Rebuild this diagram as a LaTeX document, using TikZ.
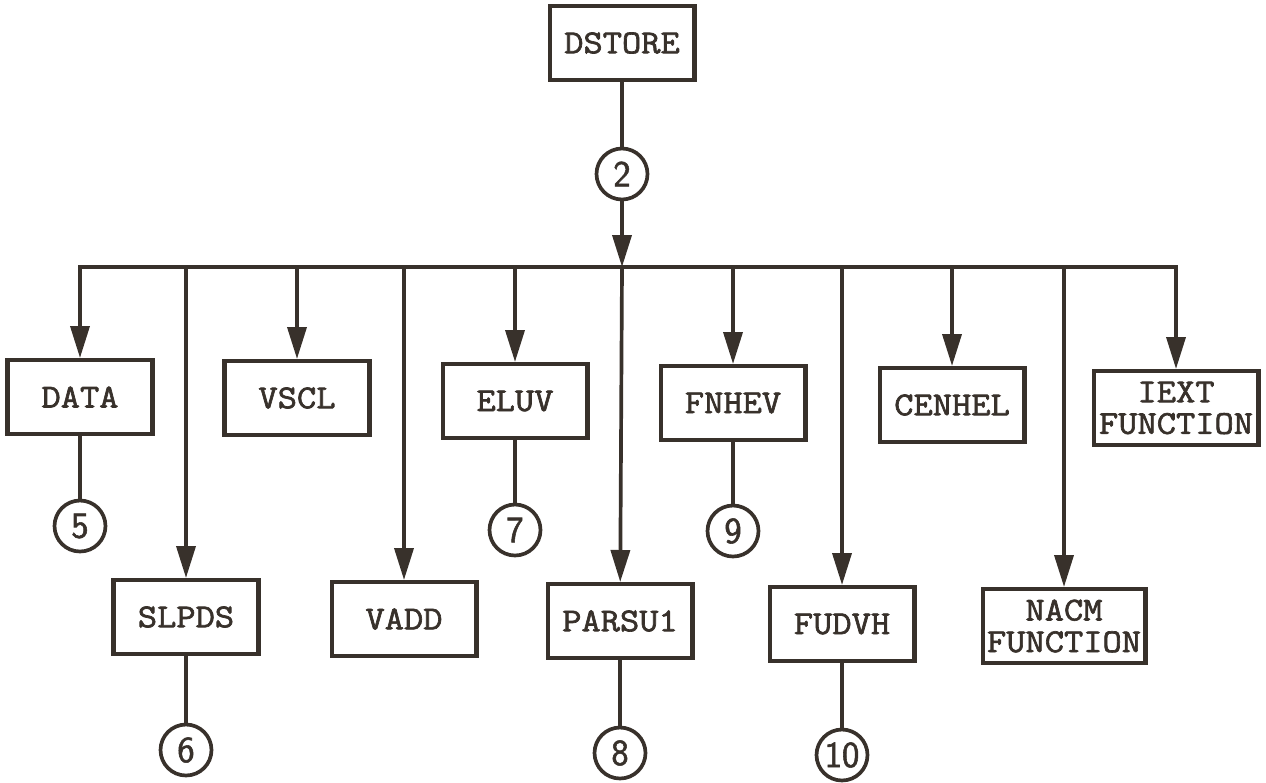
\documentclass[tikz,border=0pt]{standalone}
\usepackage{fontspec}
\setmonofont{Latin Modern Mono}[FakeStretch=1.12,FakeBold=2]
\setsansfont{Latin Modern Sans}[FakeBold=1.5]
\usetikzlibrary{arrows.meta}

\definecolor{ink}{RGB}{56,49,43}

\tikzset{
	mod/.style={draw=ink, line width=2.3pt, minimum width=2.9cm, minimum height=1.48cm,
		inner sep=2pt, align=center, text=ink, font=\fontsize{19}{18}\selectfont\ttfamily},
	num/.style={draw=ink, circle, line width=2.1pt, minimum size=1.02cm, inner sep=0pt,
		text=ink, font=\fontsize{21}{21}\selectfont\sffamily},
	link/.style={draw=ink, line width=2.1pt},
	call/.style={link, -{Triangle[length=0.64cm,width=0.38cm]}},
}

\begin{document}
\begin{tikzpicture}[x=0.02cm,y=-0.02cm]
	\useasboundingbox (0,0) rectangle (1266,782);

	\node[mod] (dstore) at (622,43) {DSTORE};
	\node[num] (n2) at (622,174) {2};
	\coordinate (bus) at (622,267);

	% first row
	\node[mod] (data) at (80,397) {DATA};
	\node[mod] (vscl) at (297,398) {VSCL};
	\node[mod] (eluv) at (515,401) {ELUV};
	\node[mod] (fnhev) at (733,403) {FNHEV};
	\node[mod] (cenhel) at (952,405) {CENHEL};
	\node[mod, minimum width=3.3cm] (iext) at (1176,408) {IEXT\\FUNCTION};

	\node[num] (n5) at (80,526) {5};
	\node[num] (n7) at (515,530) {7};
	\node[num] (n9) at (733,531) {9};

	% second row
	\node[mod] (slpds) at (186,617) {SLPDS};
	\node[mod] (vadd) at (404,619) {VADD};
	\node[mod] (parsu) at (620,621) {PARSU1};
	\node[mod] (fudvh) at (842,624) {FUDVH};
	\node[mod, minimum width=3.26cm] (nacm) at (1064,626) {NACM\\FUNCTION};

	\node[num] (n6) at (186,750) {6};
	\node[num] (n8) at (620,753) {8};
	\node[num] (n10) at (842,755) {10};

	\draw[link] (dstore) -- (n2);
	\draw[call] (n2) -- (bus);
	\draw[call] (bus) -| (data);
	\draw[call] (bus) -| (iext);
	\draw[call] (bus) -- (parsu);
	\foreach \m in {vscl,eluv,fnhev,cenhel,slpds,vadd,fudvh,nacm}
		\draw[call] (bus -| \m) -- (\m);

	\draw[link] (data) -- (n5);
	\draw[link] (eluv) -- (n7);
	\draw[link] (fnhev) -- (n9);
	\draw[link] (slpds) -- (n6);
	\draw[link] (parsu) -- (n8);
	\draw[link] (fudvh) -- (n10);
\end{tikzpicture}
\end{document}
